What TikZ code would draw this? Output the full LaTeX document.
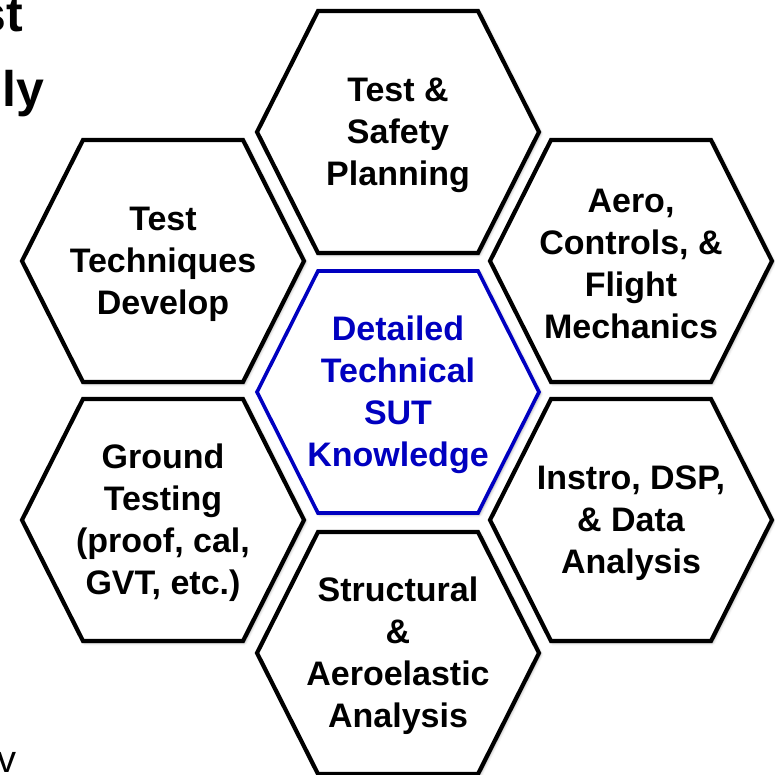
\documentclass[tikz,border=0pt]{standalone}
\usepackage{fontspec}
\setmainfont{Liberation Sans}
\usetikzlibrary{shadows.blur}
\definecolor{hexblue}{RGB}{0,0,192}
\tikzset{
  hexshape/.style={fill=white, line width=4.2pt, line join=miter,
    blur shadow={shadow xshift=1.5pt, shadow yshift=-1.5pt, shadow blur radius=3pt, shadow opacity=40}},
  hexblack/.style={hexshape, draw=black},
  hexbluecell/.style={hexshape, draw=hexblue, line width=3.6pt},
  hextext/.style={align=center, font=\fontsize{34}{42}\selectfont\bfseries, inner sep=0pt},
  hexblacktext/.style={hextext, text=black},
  hexbluecelltext/.style={hextext, text=hexblue},
  cuttext/.style={font=\fontsize{50}{60}\selectfont\bfseries, inner sep=0pt},
  cuttextreg/.style={font=\fontsize{38}{40}\selectfont, inner sep=0pt}
}
\newcommand{\hexcell}[5]{%
  \draw[#4] (#2-80,#3-121) -- (#2+80,#3-121) -- (#2+141,#3) -- (#2+80,#3+121) -- (#2-80,#3+121) -- (#2-141,#3) -- cycle;
  \node[#4text] (#1) at (#2,#3+3) {#5};
}
\begin{document}
\begin{tikzpicture}[x=1pt, y=-1pt]
  \useasboundingbox (0,0) rectangle (775,775);
  \hexcell{plan}{398}{132}{hexblack}{Test \&\\Safety\\Planning}
  \hexcell{tech}{163}{261}{hexblack}{Test\\Techniques\\Develop}
  \hexcell{ground}{163}{520}{hexblack}{Ground\\Testing\\(proof, cal,\\GVT, etc.)}
  \hexcell{aero}{631}{261}{hexblack}{Aero,\\Controls, \&\\Flight\\Mechanics}
  \hexcell{instro}{631}{520}{hexblack}{Instro, DSP,\\\& Data\\Analysis}
  \hexcell{struct}{398}{653}{hexblack}{Structural\\\&\\Aeroelastic\\Analysis}
  \hexcell{sut}{398}{392}{hexbluecell}{Detailed\\Technical\\SUT\\Knowledge}
  \node[cuttext, anchor=base east] (cutA) at (23,32) {st};
  \node[cuttext, anchor=base east] (cutB) at (44,107) {ly};
  \node[cuttextreg, anchor=north west] (cutC) at (-3,752) {v};
\end{tikzpicture}
\end{document}
